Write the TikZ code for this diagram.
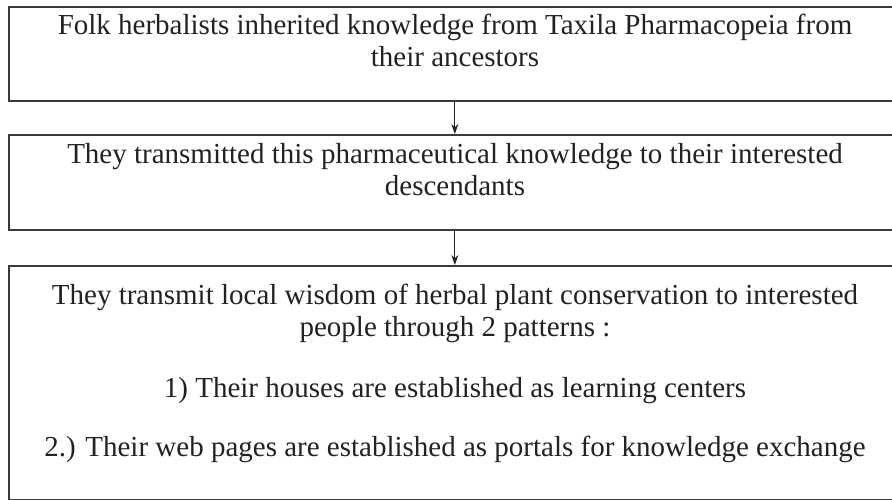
\documentclass[tikz,border=0pt]{standalone}
\usepackage{fontspec}
\setmainfont{Liberation Serif}
\usetikzlibrary{arrows.meta}
\definecolor{ink}{HTML}{222222}
\definecolor{edge}{HTML}{3A3A3A}
\begin{document}
\begin{tikzpicture}[x=1pt,y=-1pt,
  box/.style={draw=edge, line width=1.7pt, rectangle, minimum width=892pt, inner sep=0pt, anchor=north west},
  txt/.style={font=\fontsize{29}{33}\selectfont, text=ink, anchor=base, inner sep=0pt},
  arr/.style={draw=ink, line width=1.1pt, -{Stealth[length=10pt,width=7pt]}}]
\useasboundingbox (0,0) rectangle (892,500);
\clip (0,0) rectangle (892,500);
\node[box, minimum height=94pt] (box1) at (8,6) {};
\node[box, minimum height=95pt] (box2) at (8,134) {};
\node[box, minimum height=234pt] (box3) at (8,265) {};
\node[txt] (t1a) at (455,35) {Folk herbalists inherited knowledge from Taxila Pharmacopeia from};
\node[txt] (t1b) at (455,67) {their ancestors};
\node[txt] (t2a) at (455,164) {They transmitted this pharmaceutical knowledge to their interested};
\node[txt] (t2b) at (455,196) {descendants};
\node[txt] (t3a) at (455,304) {They transmit local wisdom of herbal plant conservation to interested};
\node[txt] (t3b) at (455,336) {people through 2 patterns :};
\node[txt] (t3c) at (455,397) {1) Their houses are established as learning centers};
\node[txt] (t3d) at (455,456) {2.) Their web pages are established as portals for knowledge exchange};
\draw[arr] (box1.south) -- (box2.north);
\draw[arr] (box2.south) -- (box3.north);
\end{tikzpicture}
\end{document}
